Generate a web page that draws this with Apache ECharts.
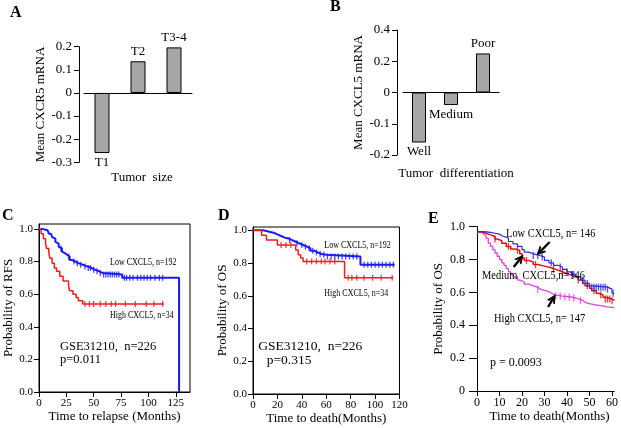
<!DOCTYPE html>
<html><head><meta charset="utf-8">
<script src="https://cdn.jsdelivr.net/npm/echarts@6/dist/echarts.min.js"></script>
<style>html,body{margin:0;padding:0;background:#fff}#c{width:621px;height:428px}</style>
</head><body><div id="c"></div>
<script>
// ---------- Panel A ----------
const A_categories = ['T1', 'T2', 'T3-4'];
const A_values = [-0.26, 0.137, 0.197];
const A_yTicks = [-0.3, -0.2, -0.1, 0, 0.1, 0.2];
// ---------- Panel B ----------
const B_categories = ['Well', 'Medium', 'Poor'];
const B_values = [-0.16, -0.04, 0.25];
const B_tickPositions = [-0.4, -0.2, 0, 0.2, 0.4];
const B_tickLabels = ['-0.2', '-0.1', '0', '0.2', '0.4'];
const B_negScale = 2; // reference axis: spacing below zero is twice that above
// ---------- Panel C (RFS) ----------
const C_xTicks = [0, 25, 50, 75, 100, 125];
const C_yTicks = [0, 0.2, 0.4, 0.6, 0.8, 1.0];
const C_low = [[0,1],[3,0.995],[6,0.99],[8,0.98],[9,0.97],[11,0.96],[12,0.95],[13,0.94],[15,0.92],[16,0.91],[18,0.89],[19,0.88],[21,0.86],[22,0.85],[24,0.84],[26,0.83],[28,0.81],[30,0.80],[33,0.79],[36,0.78],[40,0.77],[44,0.76],[48,0.75],[51,0.74],[55,0.73],[58,0.72],[76,0.70],[128,0.0]];
const C_lowCensor = [20,27,32,35,38,42,45,47,50,53,56,59,61,63,65,67,69,71,73,78,80,83,86,90,93,96,99,102,106,110,113];
const C_high = [[0,1],[2,0.97],[4,0.94],[6,0.91],[7,0.88],[9,0.85],[10,0.82],[12,0.79],[14,0.76],[16,0.74],[19,0.71],[22,0.68],[27,0.65],[28,0.62],[31,0.60],[34,0.58],[36,0.56],[40,0.54],[114,0.54]];
const C_highCensor = [42,46,50,56,61,66,70,79,88,98,105,113];
// ---------- Panel D (OS) ----------
const D_xTicks = [0, 20, 40, 60, 80, 100, 120];
const D_yTicks = [0, 0.2, 0.4, 0.6, 0.8, 1.0];
const D_low = [[0,1],[8,0.995],[11,0.99],[14,0.985],[17,0.975],[20,0.965],[23,0.955],[26,0.95],[29,0.94],[32,0.93],[35,0.92],[38,0.91],[41,0.90],[44,0.89],[47,0.875],[50,0.865],[53,0.855],[56,0.85],[60,0.84],[88,0.79],[116,0.79]];
const D_lowCensor = [30,36,40,43,46,49,52,55,58,61,64,67,70,73,76,79,82,85,91,94,97,100,103,106,109,112,115];
const D_high = [[0,1],[7,0.97],[11,0.94],[20,0.91],[35,0.88],[37,0.85],[39,0.83],[41,0.81],[75,0.71],[115,0.71]];
const D_highCensor = [23,27,31,44,48,52,56,59,63,67,78,81,85,91,98,105,114];
// ---------- Panel E (OS, three groups) ----------
const E_xTicks = [0, 10, 20, 30, 40, 50, 60];
const E_yTicks = [0, 0.2, 0.4, 0.6, 0.8, 1.0];
const E_low = [[0,0.97],[3,0.965],[6,0.96],[8,0.955],[10,0.945],[11,0.94],[12,0.93],[14,0.91],[16,0.895],[18,0.88],[20,0.86],[21,0.845],[23,0.835],[25,0.825],[28,0.815],[30,0.795],[32,0.78],[34,0.765],[36,0.755],[38,0.74],[40,0.725],[42,0.71],[44,0.695],[46,0.675],[48,0.655],[50,0.64],[51,0.632],[58,0.62],[60,0.595],[61,0.595]];
const E_lowCensor = [25,27,29,33,37,40,43,47,49,51,52,53,54,55,56,57,58,60.5];
const E_med = [[0,0.97],[2,0.96],[4,0.95],[6,0.94],[8,0.925],[9,0.915],[11,0.90],[13,0.88],[15,0.865],[17,0.855],[19,0.835],[20,0.81],[21,0.795],[23,0.785],[25,0.77],[27,0.76],[30,0.75],[33,0.74],[35,0.73],[37,0.72],[39,0.71],[41,0.70],[43,0.69],[45,0.675],[47,0.655],[48,0.64],[50,0.625],[51,0.61],[53,0.595],[54,0.585],[56,0.57],[57,0.56],[60,0.55],[61,0.55]];
const E_medCensor = [8,14,18,22,26,34,38,45,49,52,55,57,58,59,60];
const E_high = [[0,0.965],[2,0.955],[3,0.945],[4,0.93],[5,0.90],[6,0.88],[7,0.86],[8,0.84],[9,0.82],[10,0.80],[11,0.78],[12,0.765],[13,0.745],[14,0.725],[15,0.71],[16,0.695],[18,0.675],[19,0.665],[21,0.65],[23,0.64],[25,0.632],[27,0.62],[28,0.612],[30,0.605],[32,0.595],[33,0.585],[35,0.578],[38,0.572],[42,0.566],[44,0.56],[45,0.552],[47,0.54],[48,0.532],[50,0.525],[52,0.52],[55,0.512],[58,0.508],[61,0.505]];
const E_highCensor = [27,35,37,39,41,43,46];
const E_arrows = [[[32.3,0.907],[27.9,0.846]], [[16.3,0.755],[19.4,0.808]], [[31.6,0.511],[33.9,0.565]]];

const FF = 'Liberation Serif';
const BLUE = '#1a1aff', RED = '#ee1c1c';
const E_BLUE = '#2b2bd6', E_RED = '#e01010', E_MAG = '#e040e0';
const CHEVRON = 'path://M0,10 L5,0 L10,10 L7.6,10 L5,4.6 L2.4,10 Z';

function stepValue(steps, t) {
  let v = steps[0][1];
  for (const [x, y] of steps) { if (x <= t) v = y; else break; }
  return v;
}
function kmLine(data, color, width, xi) {
  return { type: 'line', xAxisIndex: xi, yAxisIndex: xi, data: data, step: 'end', showSymbol: false, symbol: 'none',
    lineStyle: { color: color, width: width }, itemStyle: { color: color }, silent: true, z: 3 };
}
function kmCensor(steps, times, color, xi, h) {
  return { type: 'scatter', xAxisIndex: xi, yAxisIndex: xi, data: times.map(t => [t, stepValue(steps, t)]),
    symbol: 'rect', symbolSize: [1.3, h || 6], itemStyle: { color: color }, silent: true, z: 4 };
}
const lab = (size) => ({ fontFamily: FF, fontSize: size, color: '#000' });
function valueAxis(gi, min, max, ticks, fmt, opts) {
  return Object.assign({
    gridIndex: gi, type: 'value', min: min, max: max,
    axisLine: { show: true, onZero: false, lineStyle: { color: '#000', width: 1 } },
    axisTick: { show: true, length: 5, customValues: ticks, lineStyle: { color: '#000' } },
    axisLabel: Object.assign({ customValues: ticks, formatter: fmt, margin: 6 }, lab(11)),
    splitLine: { show: false },
    nameLocation: 'middle', nameTextStyle: lab(13)
  }, opts || {});
}
const f1 = v => v.toFixed(1);

const option = {
  animation: false,
  backgroundColor: '#fff',
  grid: [
    { left: 84, top: 46.7, width: 108, height: 115.6 },
    { left: 403, top: 30, width: 96, height: 125 },
    { left: 39, top: 224, width: 151, height: 168, show: true, borderColor: '#000', borderWidth: 1 },
    { left: 253, top: 227, width: 146.5, height: 167, show: true, borderColor: '#000', borderWidth: 1 },
    { left: 477, top: 226.7, width: 140, height: 164.3 }
  ],
  xAxis: [
    { gridIndex: 0, type: 'category', data: A_categories, axisLine: { onZero: true, lineStyle: { color: '#000' } }, axisTick: { show: false }, axisLabel: { show: false } },
    { gridIndex: 1, type: 'category', data: B_categories, axisLine: { onZero: true, lineStyle: { color: '#000' } }, axisTick: { show: false }, axisLabel: { show: false } },
    valueAxis(2, 0, 138, C_xTicks, v => String(v), { name: 'Time to relapse (Months)', nameGap: 17 }),
    valueAxis(3, 0, 120, D_xTicks, v => String(v), { name: 'Time to death(Months)', nameGap: 17 }),
    valueAxis(4, 0, 61, E_xTicks, v => String(v), { name: 'Time to death(Months)', nameGap: 19,
      nameTextStyle: Object.assign({ padding: [0, 0, 0, 8] }, lab(13)),
      axisLabel: Object.assign({ customValues: E_xTicks, margin: 6 }, lab(12)) })
  ],
  yAxis: [
    valueAxis(0, -0.3, 0.2, A_yTicks, null, { offset: 5, name: 'Mean CXCR5 mRNA', nameGap: 29,
      axisLabel: Object.assign({ customValues: A_yTicks, formatter: v => (Math.abs(v) < 1e-9 ? '0' : f1(v)), margin: 7 }, lab(13)) }),
    valueAxis(1, -0.4, 0.4, B_tickPositions, null, { offset: 6, name: 'Mean CXCL5 mRNA', nameGap: 29,
      axisLabel: Object.assign({ customValues: B_tickPositions, margin: 7,
        formatter: v => { let best = 0; B_tickPositions.forEach((p, i) => { if (Math.abs(p - v) < Math.abs(B_tickPositions[best] - v)) best = i; }); return B_tickLabels[best]; } }, lab(13)) }),
    valueAxis(2, 0, 1.03, C_yTicks, f1, { name: 'Probability of RFS', nameGap: 24 }),
    valueAxis(3, 0, 1.02, D_yTicks, f1, { name: 'Probability of OS', nameGap: 23 }),
    valueAxis(4, 0, 1.0, E_yTicks, null, { name: 'Probability of OS', nameGap: 32,
      axisTick: { show: true, length: 8, customValues: E_yTicks, lineStyle: { color: '#000' } },
      axisLabel: Object.assign({ customValues: E_yTicks, formatter: v => (v === 0 ? '0' : f1(v)), margin: 12 }, lab(12)) })
  ],
  series: [
    { type: 'bar', xAxisIndex: 0, yAxisIndex: 0, barWidth: 15, silent: true,
      itemStyle: { color: '#a6a6a6', borderColor: '#000', borderWidth: 1 },
      label: Object.assign({ show: true, formatter: '{b}', distance: 3 }, lab(13)),
      data: A_values.map(v => ({ value: v, label: { position: v < 0 ? 'bottom' : 'top' } })) },
    { type: 'bar', xAxisIndex: 1, yAxisIndex: 1, barWidth: 14, silent: true,
      itemStyle: { color: '#a6a6a6', borderColor: '#000', borderWidth: 1 },
      label: Object.assign({ show: true, formatter: '{b}', distance: 3 }, lab(13)),
      data: B_values.map(v => ({ value: v < 0 ? v * B_negScale : v, label: { position: v < 0 ? 'bottom' : 'top' } })) },
    kmLine(C_low, BLUE, 2, 2), kmCensor(C_low, C_lowCensor, BLUE, 2),
    kmLine(C_high, RED, 1.5, 2), kmCensor(C_high, C_highCensor, RED, 2),
    kmLine(D_low, BLUE, 2, 3), kmCensor(D_low, D_lowCensor, BLUE, 3),
    kmLine(D_high, RED, 1.5, 3), kmCensor(D_high, D_highCensor, RED, 3),
    kmLine(E_high, E_MAG, 1.3, 4), kmCensor(E_high, E_highCensor, E_MAG, 4, 7),
    kmLine(E_med, E_RED, 1.5, 4), kmCensor(E_med, E_medCensor, E_RED, 4, 7),
    Object.assign(kmLine(E_low, E_BLUE, 1.2, 4), {
      markLine: { silent: true, symbol: ['none', CHEVRON], symbolSize: [9, 9], animation: false,
        lineStyle: { color: '#000', width: 2.3, type: 'solid' }, itemStyle: { color: '#000' }, label: { show: false },
        data: E_arrows.map(a => [{ coord: a[0] }, { coord: a[1] }]) } }),
    kmCensor(E_low, E_lowCensor, E_BLUE, 4, 7)
  ],
  graphic: [
    ['A', 10, 13], ['B', 330, 7], ['C', 2, 216], ['D', 218, 216], ['E', 428, 219]
  ].map(([t, x, y]) => ({ type: 'text', x: x, y: y, silent: true,
      style: { text: t, font: 'bold 16px "Liberation Serif"', fill: '#000', verticalAlign: 'middle', align: 'left' } }))
  .concat([
    ['Tumor  size', 142, 178, 13, 1, 'center'],
    ['Tumor  differentiation', 456, 174, 13, 1, 'center'],
    ['Low CXCL5, n=192', 110, 262.5, 10, 0.8, 'left'],
    ['High CXCL5, n=34', 110, 315, 10, 0.8, 'left'],
    ['GSE31210,  n=226', 60, 346.7, 12.5, 1, 'left'],
    ['p=0.011', 60, 359.5, 12.5, 1, 'left'],
    ['Low CXCL5, n=192', 324.3, 245, 10, 0.8, 'left'],
    ['High CXCL5, n=34', 324.3, 293.5, 10, 0.8, 'left'],
    ['GSE31210,  n=226', 258.3, 346.7, 13.5, 1, 'left'],
    ['p=0.315', 266.7, 360, 13.5, 1, 'left'],
    ['Low CXCL5, n= 146', 506, 234.3, 12, 0.87, 'left'],
    ['Medium  CXCL5,n=146', 482, 275.5, 12, 0.87, 'left'],
    ['High CXCL5, n= 147', 494, 318.7, 12, 0.87, 'left'],
    ['p = 0.0093', 490, 363.3, 12, 1, 'left']
  ].map(([t, x, y, s, sx, al]) => ({ type: 'text', x: x, y: y, scaleX: sx, silent: true, z: 10,
      style: { text: t, font: s + 'px "Liberation Serif"', fill: '#000', verticalAlign: 'middle', align: al } })))
};

const chart = echarts.init(document.getElementById('c'), null, { renderer: 'canvas' });
chart.setOption(option);
</script>
</body></html>
